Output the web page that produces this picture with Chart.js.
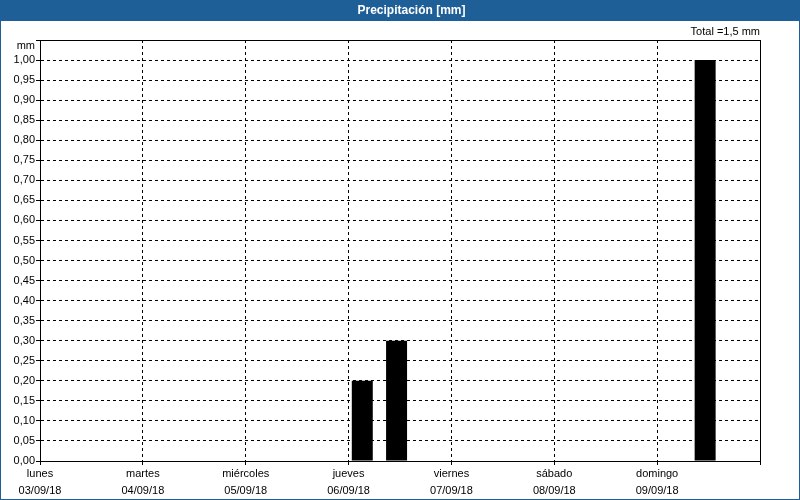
<!DOCTYPE html>
<html>
<head>
<meta charset="utf-8">
<script src="https://cdn.jsdelivr.net/npm/chart.js@4/dist/chart.umd.min.js"></script>
<style>
  html, body { margin: 0; padding: 0; background: #ffffff; }
  #wrap { width: 800px; height: 500px; }
</style>
</head>
<body>
<div id="wrap"><canvas id="c" width="800" height="500"></canvas></div>
<script>
// ---- data ----
const chartTitle = 'Precipitación [mm]';
const unitLabel = 'mm';
const dayNames = ['lunes', 'martes', 'miércoles', 'jueves', 'viernes', 'sábado', 'domingo'];
const dayDates = ['03/09/18', '04/09/18', '05/09/18', '06/09/18', '07/09/18', '08/09/18', '09/09/18'];
const periodsPerDay = 3; // 8-hour periods
// precipitation per 8-hour period (mm), 7 days x 3
const precipitation = [
  0, 0, 0,
  0, 0, 0,
  0, 0, 0,
  0.2, 0.3, 0,
  0, 0, 0,
  0, 0, 0,
  0, 1.0, 0
];
const yMin = 0;
const yMax = 1.05;
const yStep = 0.05;

// ---- helpers ----
const fmt = v => v.toFixed(2).replace('.', ',');
const total = precipitation.reduce((a, b) => a + b, 0);
const totalLabel = 'Total =' + (Math.round(total * 10) / 10).toString().replace('.', ',') + ' mm';
const barAnchor = 0.4; // position of bar within its period
const points = precipitation.map((v, i) => ({ x: i + barAnchor, y: v }));

const titleBlue = '#1f5f97';
Chart.defaults.font.family = "'Liberation Sans', Arial, sans-serif";
Chart.defaults.font.size = 11;
Chart.defaults.color = '#000';

const decor = {
  id: 'decor',
  afterLayout(chart) {
    // the original centres its title slightly right of the canvas centre
    if (chart.titleBlock) chart.titleBlock.left = 23;
  },
  beforeDraw(chart) {
    const { ctx, width, height } = chart;
    ctx.save();
    ctx.fillStyle = '#ffffff';
    ctx.fillRect(0, 0, width, height);
    ctx.fillStyle = titleBlue;
    const tb = chart.titleBlock ? chart.titleBlock.bottom : 21;
    ctx.fillRect(0, 0, width, tb);
    ctx.restore();
  },
  afterDraw(chart) {
    const { ctx, width, height, chartArea: a } = chart;
    ctx.save();
    ctx.strokeStyle = '#000';
    ctx.lineWidth = 1;
    ctx.setLineDash([]);
    ctx.strokeRect(a.left + 0.5, a.top + 0.5, a.right - a.left, a.bottom - a.top);
    ctx.strokeStyle = titleBlue;
    ctx.strokeRect(0.5, 0.5, width - 1, height - 1);
    ctx.fillStyle = '#000';
    ctx.font = "11px 'Liberation Sans', Arial, sans-serif";
    ctx.textAlign = 'right';
    ctx.textBaseline = 'middle';
    ctx.fillText(unitLabel, a.left - 5, a.top + 6);
    ctx.restore();
  }
};

new Chart(document.getElementById('c'), {
  type: 'bar',
  data: {
    datasets: [{
      data: points,
      backgroundColor: '#000',
      borderWidth: 0,
      categoryPercentage: 1,
      barPercentage: 0.612
    }]
  },
  options: {
    responsive: false,
    animation: false,
    layout: { padding: { left: 0, right: 0, top: 0, bottom: 0 } },
    plugins: {
      legend: { display: false },
      tooltip: { enabled: false },
      title: {
        display: true,
        text: chartTitle,
        color: '#ffffff',
        font: { size: 12, weight: 'bold', lineHeight: 1 },
        padding: { top: 4.5, bottom: 4.5 }
      },
      subtitle: {
        display: true,
        text: totalLabel,
        align: 'end',
        fullSize: false,
        color: '#000',
        font: { size: 11, lineHeight: 1 },
        padding: { top: 5, bottom: 3 }
      }
    },
    scales: {
      x: {
        type: 'linear',
        offset: false,
        min: 0,
        max: dayNames.length * periodsPerDay,
        grid: {
          offset: false,
          color: '#000',
          lineWidth: 1,
          tickLength: 5,
          tickBorderDash: [3, 3]
        },
        border: { display: true, color: '#000', width: 1, dash: [3, 3] },
        ticks: {
          stepSize: periodsPerDay,
          autoSkip: false,
          maxRotation: 0,
          padding: 0,
          font: { size: 11, lineHeight: 1.5 },
          callback: (v) => {
            const d = Math.round(v / periodsPerDay);
            return d < dayNames.length ? [dayNames[d], dayDates[d]] : '';
          }
        },
        afterFit: (s) => { s.height = 39; s.paddingLeft = 0; s.paddingRight = 0; }
      },
      y: {
        min: yMin,
        max: yMax,
        grid: {
          color: '#000',
          lineWidth: 1,
          tickLength: 4
        },
        border: { display: true, color: '#000', width: 1, dash: [3, 3] },
        ticks: {
          stepSize: yStep,
          autoSkip: false,
          padding: 1,
          font: { size: 11 },
          callback: (v) => (v > 1.0001 ? '' : fmt(v))
        },
        afterFit: (s) => { s.width = 40; s.paddingTop = 0; s.paddingBottom = 0; }
      },
      yRight: {
        type: 'linear',
        position: 'right',
        display: true,
        grid: { display: false },
        border: { display: false },
        ticks: { display: false },
        afterFit: (s) => { s.width = 40; }
      }
    }
  },
  plugins: [decor]
});
</script>
</body>
</html>
